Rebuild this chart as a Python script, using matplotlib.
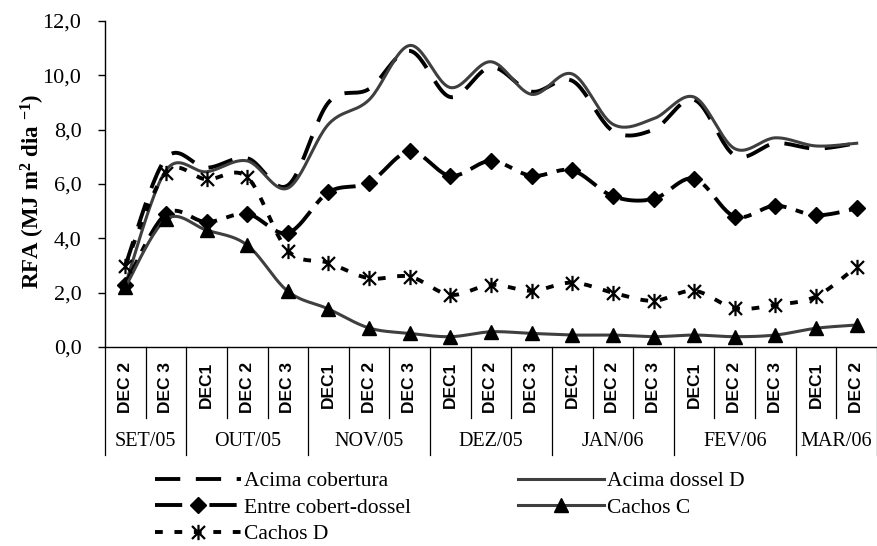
import numpy as np
import matplotlib
matplotlib.use("Agg")
import matplotlib.pyplot as plt
from matplotlib.path import Path
from matplotlib.transforms import blended_transform_factory

# ---------------- data ----------------
months = ["SET/05", "OUT/05", "NOV/05", "DEZ/05", "JAN/06", "FEV/06", "MAR/06"]
month_decs = [["DEC 2", "DEC 3"],
              ["DEC1", "DEC 2", "DEC 3"],
              ["DEC1", "DEC 2", "DEC 3"],
              ["DEC1", "DEC 2", "DEC 3"],
              ["DEC1", "DEC 2", "DEC 3"],
              ["DEC1", "DEC 2", "DEC 3"],
              ["DEC1", "DEC 2"]]

acima_cobertura = [3.0, 6.95, 6.6, 6.95, 5.95, 9.0, 9.5, 10.9, 9.2, 10.3, 9.4,
                   9.8, 7.95, 8.0, 9.1, 7.05, 7.5, 7.3, 7.5]
acima_dossel_d = [2.3, 6.5, 6.45, 6.85, 5.85, 8.2, 9.1, 11.1, 9.55, 10.5, 9.3,
                  10.05, 8.2, 8.4, 9.2, 7.3, 7.7, 7.4, 7.5]
entre_cobert_dossel = [2.3, 4.9, 4.6, 4.9, 4.2, 5.7, 6.05, 7.2, 6.3, 6.85, 6.3,
                       6.5, 5.55, 5.45, 6.2, 4.8, 5.2, 4.85, 5.1]
cachos_c = [2.2, 4.7, 4.3, 3.75, 2.05, 1.4, 0.7, 0.5, 0.38, 0.56, 0.5,
            0.44, 0.44, 0.38, 0.44, 0.38, 0.44, 0.69, 0.81]
cachos_d = [3.0, 6.42, 6.17, 6.25, 3.55, 3.1, 2.53, 2.59, 1.92, 2.29, 2.07,
            2.37, 2.0, 1.7, 2.07, 1.43, 1.55, 1.86, 2.96]

labels = ["Acima cobertura", "Entre cobert-dossel", "Cachos D",
          "Acima dossel D", "Cachos C"]

dec_labels = [d for grp in month_decs for d in grp]
n = len(dec_labels)

# ---------------- helpers ----------------
NSEG = 24


def smooth(vals):
    """Excel-like smoothed line (Catmull-Rom Bezier)."""
    y = np.asarray(vals, float)
    x = np.arange(len(y), dtype=float)
    P = np.column_stack([x, y])
    out = []
    t = np.linspace(0, 1, NSEG, endpoint=False)[:, None]
    for i in range(len(P) - 1):
        p0 = P[i - 1] if i > 0 else P[i]
        p1 = P[i]
        p2 = P[i + 1]
        p3 = P[i + 2] if i + 2 < len(P) else P[i + 1]
        c1 = p1 + (p2 - p0) / 6.0
        c2 = p2 - (p3 - p1) / 6.0
        seg = ((1 - t) ** 3) * p1 + 3 * ((1 - t) ** 2) * t * c1 + \
            3 * (1 - t) * t ** 2 * c2 + t ** 3 * p2
        out.append(seg)
    out.append(P[-1][None, :])
    pts = np.vstack(out)
    marks = list(range(0, len(pts), NSEG))
    return pts[:, 0], pts[:, 1], marks


star = Path([(0, -1), (0, 1), (-0.85, -0.85), (0.85, 0.85), (-0.85, 0.85), (0.85, -0.85)],
            [Path.MOVETO, Path.LINETO, Path.MOVETO, Path.LINETO, Path.MOVETO, Path.LINETO])

# ---------------- figure ----------------
plt.rcParams['mathtext.fontset'] = 'custom'
plt.rcParams['mathtext.rm'] = 'Liberation Serif:bold'
plt.rcParams['mathtext.it'] = 'Liberation Serif:bold'
plt.rcParams['mathtext.bf'] = 'Liberation Serif:bold'
plt.rcParams['mathtext.default'] = 'rm'

W, H = 878, 546
fig = plt.figure(figsize=(W / 100, H / 100), dpi=100)
ax_l, ax_r, ax_t, ax_b = 105, 877, 21, 347
ax = fig.add_axes([ax_l / W, 1 - ax_b / H, (ax_r - ax_l) / W, (ax_b - ax_t) / H])

gray = '#3f3f3f'
handles = {}

xs, ys, mk = smooth(acima_cobertura)
handles[labels[0]], = ax.plot(xs, ys, color='black', lw=2.8, dashes=(6.5, 4),
                              solid_capstyle='butt', dash_capstyle='butt')

xs, ys, mk = smooth(acima_dossel_d)
handles[labels[3]], = ax.plot(xs, ys, color=gray, lw=2.2)

xs, ys, mk = smooth(entre_cobert_dossel)
handles[labels[1]], = ax.plot(xs, ys, color='black', lw=2.8, dashes=(7, 2.5, 2, 2.5),
                              marker='D', markersize=8, markevery=mk,
                              markerfacecolor='black', markeredgecolor='black')

xs, ys, mk = smooth(cachos_c)
handles[labels[4]], = ax.plot(xs, ys, color=gray, lw=2.2,
                              marker='^', markersize=10, markevery=mk,
                              markerfacecolor='black', markeredgecolor='black')

xs, ys, mk = smooth(cachos_d)
handles[labels[2]], = ax.plot(xs, ys, color='black', lw=2.8, dashes=(2.0, 3.0),
                              marker=star, markersize=11, markevery=mk,
                              markerfacecolor='none', markeredgecolor='black',
                              markeredgewidth=1.6)

ax.set_xlim(-0.5, n - 0.5)
ax.set_ylim(0, 12)
ax.set_yticks(np.arange(0, 12.1, 2))
ax.set_yticklabels([f"{v:.1f}".replace('.', ',') for v in np.arange(0, 12.1, 2)],
                   family='Liberation Serif', fontsize=16)
ax.tick_params(axis='y', direction='out', length=5, width=1, pad=12, color='black')
ax.set_xticks([])
for s in ['top', 'right']:
    ax.spines[s].set_visible(False)
ax.spines['left'].set_linewidth(1)
ax.spines['bottom'].set_linewidth(1)

# multi-level category axis
trans = blended_transform_factory(ax.transData, ax.transAxes)
hgt = ax_b - ax_t
sep_short = -(418 - ax_b) / hgt
sep_long = -(455 - ax_b) / hgt
dec_top = -(362 - ax_b) / hgt
month_y = -(442 - ax_b) / hgt

for i, lab in enumerate(dec_labels):
    ax.text(i, dec_top, lab, transform=trans, rotation=90, ha='center', va='top',
            family='Liberation Sans', fontsize=12.5, fontweight='bold')

bounds = [-0.5]
for grp in month_decs:
    bounds.append(bounds[-1] + len(grp))
month_bounds = set(bounds)
for b in np.arange(-0.5, n, 1.0):
    y1 = sep_long if b in month_bounds else sep_short
    ax.plot([b, b], [0, y1], transform=trans, color='black', lw=0.9, clip_on=False)

for k, m in enumerate(months):
    c = (bounds[k] + bounds[k + 1]) / 2
    ax.text(c, month_y, m, transform=trans, ha='center', va='center',
            family='Liberation Serif', fontsize=14.5)

# y label
fig.text(33 / W, 1 - 191 / H, r"RFA (MJ m$^{2}$ dia $^{-1}$)", rotation=90,
         ha='center', va='center', family='Liberation Serif', fontweight='bold',
         fontsize=16.5)

# legends
leg_kw = dict(frameon=False, loc='upper left', borderaxespad=0, borderpad=0,
              handlelength=4.0, handletextpad=0.15, labelspacing=0.3, numpoints=1,
              prop={'family': 'Liberation Serif', 'size': 15.5})
l1 = fig.legend([handles[l] for l in labels[:3]], labels[:3],
                bbox_to_anchor=(155 / W, 1 - 471 / H), **leg_kw)
l2 = fig.legend([handles[l] for l in labels[3:]], labels[3:],
                bbox_to_anchor=(518 / W, 1 - 471 / H), **leg_kw)

fig.savefig("out.png", dpi=100)
